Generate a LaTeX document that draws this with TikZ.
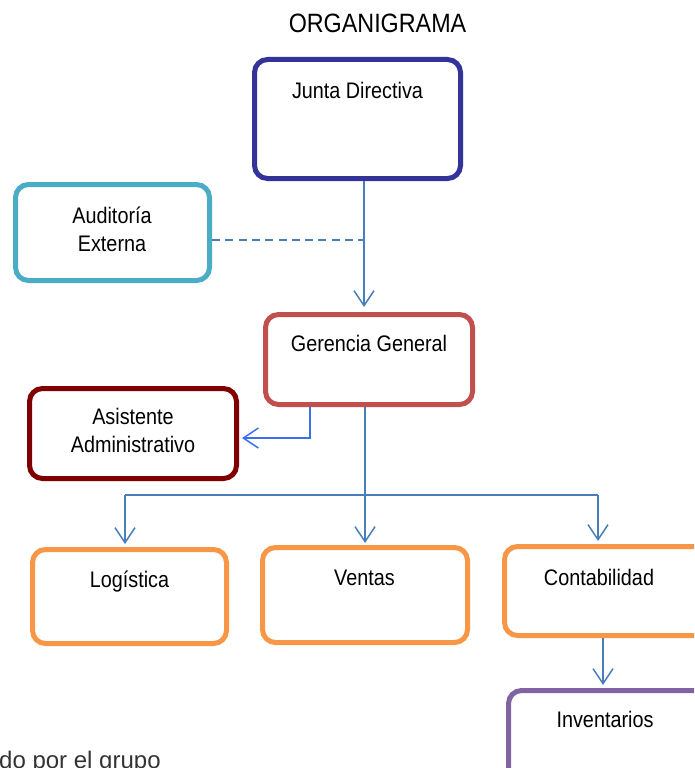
\documentclass[tikz,border=0pt]{standalone}
\usepackage{fontspec}
\setmainfont{Liberation Sans}[FakeStretch=0.88]
\newfontfamily\notefont{Liberation Sans}
\usetikzlibrary{arrows.meta}

\definecolor{cJunta}{RGB}{51,51,153}
\definecolor{cAudit}{RGB}{75,172,198}
\definecolor{cGeren}{RGB}{192,80,77}
\definecolor{cAsist}{RGB}{128,0,0}
\definecolor{cOrange}{RGB}{247,150,70}
\definecolor{cPurple}{RGB}{128,100,162}
\definecolor{cLine}{RGB}{74,126,187}
\definecolor{cLineB}{RGB}{60,110,240}

\begin{document}
\begin{tikzpicture}[x=1pt,y=-1pt,
  box/.style={draw=#1, line width=5pt, rounded corners=13pt, inner sep=0pt, outer sep=2.5pt, fill=white},
  lbl/.style={font=\fontsize{22.5}{28}\selectfont, inner sep=0pt, align=center},
  conn/.style={draw=cLine, line width=1.5pt},
  tip/.style={-{Straight Barb[length=15pt,width=20pt]}},
]
\useasboundingbox (0,0) rectangle (694,768);
\clip (0,0) rectangle (694,768);

% title
\node[font=\fontsize{26.5}{30}\selectfont, anchor=base, inner sep=0pt] (title) at (377.5,33) {ORGANIGRAMA};

% boxes
\node[box=cJunta,  minimum width=206pt, minimum height=119pt] (junta)  at (357.5,119) {};
\node[box=cAudit,  minimum width=194pt, minimum height=96pt]  (audit)  at (112.5,232.5) {};
\node[box=cGeren,  minimum width=207pt, minimum height=90pt]  (geren)  at (369,359.5) {};
\node[box=cAsist,  minimum width=207pt, minimum height=90pt]  (asist)  at (133,433.5) {};
\node[box=cOrange, minimum width=194pt, minimum height=94pt]  (logis)  at (129.5,596.5) {};
\node[box=cOrange, minimum width=205pt, minimum height=95pt]  (ventas) at (365,595) {};
\node[box=cOrange, minimum width=205pt, minimum height=89pt]  (conta)  at (607,591) {};
\node[box=cPurple, minimum width=205pt, minimum height=90pt]  (inven)  at (611,735.5) {};

% box labels
\node[lbl, anchor=base]   (juntaT)  at (357.5,98)  {Junta Directiva};
\node[lbl, anchor=center] (auditT)  at (112,229)   {Auditoría\\Externa};
\node[lbl, anchor=base]   (gerenT)  at (369,351)   {Gerencia General};
\node[lbl, anchor=center] (asistT)  at (133,430.5) {Asistente\\Administrativo};
\node[lbl, anchor=base]   (logisT)  at (129.5,587) {Logística};
\node[lbl, anchor=base]   (ventasT) at (364.5,585) {Ventas};
\node[lbl, anchor=base]   (contaT)  at (599,585)   {Contabilidad};
\node[lbl, anchor=base]   (invenT)  at (605,727)   {Inventarios};

% junction points
\coordinate (j1) at (364,240);
\coordinate (j2) at (310,438);
\coordinate (j3) at (125,495);
\coordinate (j4) at (598,495);
\coordinate (jm) at (365,495);
\coordinate (jc) at (603,0);

% connectors
\draw[conn, dash pattern=on 8pt off 5.3pt] (audit.east |- j1) -- (j1);
\draw[conn, tip, shorten >=5pt] (junta.south -| j1) -- (geren.north -| j1);
\draw[draw=cLineB, line width=1.5pt, tip, shorten >=3pt] (geren.south -| j2) -- (j2) -- (asist.east |- j2);
\draw[conn, tip, shorten >=2pt] (geren.south -| jm) -- (ventas.north -| jm);
\draw[conn] (j3) -- (j4);
\draw[conn, tip, shorten >=3pt] (j3) -- (logis.north -| j3);
\draw[conn, tip, shorten >=3pt] (j4) -- (conta.north -| j4);
\draw[conn, tip, shorten >=3pt] (conta.south -| jc) -- (inven.north -| jc);

% note text at the lower edge
\node[font=\notefont\fontsize{24}{28}\selectfont, text=black!80, anchor=base west, inner sep=0pt] (nota) at (-1,768) {do por el grupo};
\end{tikzpicture}
\end{document}
